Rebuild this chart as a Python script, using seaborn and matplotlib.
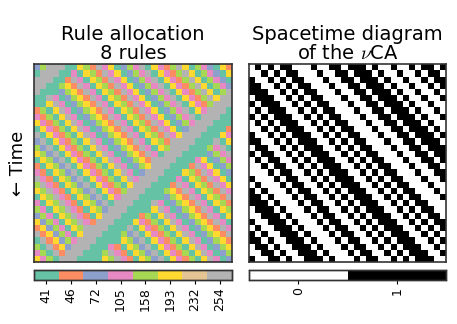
import numpy as np
import matplotlib
matplotlib.use("Agg")
import matplotlib.pyplot as plt
from matplotlib.colors import ListedColormap
import seaborn as sns

# rules used by the non-uniform CA (colorbar tick labels)
rules = [41, 46, 72, 105, 158, 193, 232, 254]

# rule allocation, one string per time step, digit = index into rules
rule_rows = [
    "24777005417350243705314750432051",
    "07770030541735024370531475043205",
    "77700173054173502437053147504320",
    "77004517305417350243705314750432",
    "70002451730541735024370531475047",
    "00730245173054173502437053147577",
    "00573024517305417350243705314777",
    "14057302451730541735024370537770",
    "31405730245173054173502437077700",
    "53140573024517305417350243777000",
    "05314057302451730541735027770001",
    "70531405730245173054173577700053",
    "27053140573024517305417777000705",
    "42705314057302451730547770004370",
    "54270531405730245173077700002437",
    "05427053140573024517777000350243",
    "10542705314057302457770001735024",
    "31054270531405730277700054173502",
    "73105427053140573777000305417350",
    "47310542705314057770001730541735",
    "54731054270531477700045173054173",
    "05473105427053777000024517305417",
    "30547310542707770007302451730541",
    "43054731054277700005730245173054",
    "24305473105777000140573024517305",
    "52430547317770005314057302451730",
    "15243054777700070531405730245173",
    "71524305777000427053140573024517",
    "07152437770000542705314057302451",
    "40715277700031054270531405730245",
    "34071777000473105427053140573024",
    "53407770000547310542705314057302",
]

# spacetime diagram, '#' = state 1 (black)
state_rows = [
    ".#.#.##...#..##.###.#..#..#.##.#",
    "..#.#.##...#..##.###.#..#..#.##.",
    "#..#.#.##...#..##.###.#..#..#.##",
    "##..#.#.##...#..##.###.#..#..#.#",
    "###..#.#.##...#..##.###.#..#..#.",
    ".###..#.#.##...#..##.###.#..#..#",
    "#.###..#.#.##...#..##.###.#..#..",
    ".#.###..#.#.##...#..##.###.#..#.",
    "#.#.###..#.#.##...#..##.###.#..#",
    ".#.#.###..#.#.##...#..##.###.#..",
    "..#.#.###..#.#.##...#..##.###.#.",
    "#..#.#.###..#.#.##...#..##.###.#",
    "##..#.#.###..#.#.##...#..##.###.",
    ".##..#.#.###..#.#.##...#..##.###",
    "#.##..#.#.###..#.#.##...#..##.##",
    ".#.##..#.#.###..#.#.##...#..##.#",
    "..#.##..#.#.###..#.#.##...#..##.",
    "...#.##..#.#.###..#.#.##...#..##",
    "#...#.##..#.#.###..#.#.##...#..#",
    ".#...#.##..#.#.###..#.#.##...#..",
    "#.#...#.##..#.#.###..#.#.##...#.",
    "##.#...#.##..#.#.###..#.#.##...#",
    "###.#...#.##..#.#.###..#.#.##...",
    ".###.#...#.##..#.#.###..#.#.##..",
    "..###.#...#.##..#.#.###..#.#.##.",
    "#..###.#...#.##..#.#.###..#.#.##",
    ".#..###.#...#.##..#.#.###..#.#.#",
    "#.#..###.#...#.##..#.#.###..#.#.",
    "##.#..###.#...#.##..#.#.###..#.#",
    ".##.#..###.#...#.##..#.#.###..#.",
    "..##.#..###.#...#.##..#.#.###..#",
    "#..##.#..###.#...#.##..#.#.###..",
]

alloc = np.array([[int(ch) for ch in row] for row in rule_rows])
states = np.array([[1 if ch == "#" else 0 for ch in row] for row in state_rows])

sns.set_style("white")
plt.rcParams["mathtext.fontset"] = "cm"
plt.rcParams["font.family"] = ["DejaVu Sans"]
plt.rcParams["text.color"] = "black"
plt.rcParams["axes.labelcolor"] = "black"
plt.rcParams["xtick.color"] = "black"

fig = plt.figure(figsize=(4.57, 3.24), dpi=100)
ax1 = fig.add_axes([0.0744, 0.191, 0.433, 0.611])
ax2 = fig.add_axes([0.545, 0.191, 0.431, 0.611])
cax1 = fig.add_axes([0.0744, 0.136, 0.433, 0.030])
cax2 = fig.add_axes([0.545, 0.136, 0.431, 0.030])

rule_cmap = ListedColormap(sns.color_palette("Set2", len(rules)))
sns.heatmap(alloc, ax=ax1, cmap=rule_cmap, vmin=-0.5, vmax=len(rules) - 0.5,
            cbar_ax=cax1, cbar_kws={"orientation": "horizontal"},
            xticklabels=False, yticklabels=False)
bw_cmap = ListedColormap(["white", "black"])
sns.heatmap(states, ax=ax2, cmap=bw_cmap, vmin=-0.5, vmax=1.5,
            cbar_ax=cax2, cbar_kws={"orientation": "horizontal"},
            xticklabels=False, yticklabels=False)

for ax in (ax1, ax2):
    for sp in ax.spines.values():
        sp.set_visible(True)
        sp.set_color("#333333")
        sp.set_linewidth(1.2)

cax1.set_xticks(range(len(rules)))
cax1.set_xticklabels([str(r) for r in rules], rotation=90, fontsize=9)
cax2.set_xticks([0, 1])
cax2.set_xticklabels(["0", "1"], rotation=90, fontsize=9)
for cax in (cax1, cax2):
    cax.tick_params(axis="x", length=3, width=0.8, pad=2, colors="black")
    for sp in cax.spines.values():
        sp.set_visible(True)
        sp.set_color("#333333")
        sp.set_linewidth(1.0)

ax1.set_title("Rule allocation\n8 rules", fontsize=14, linespacing=1.0, pad=4)
ax2.set_title("Spacetime diagram\nof the $\\nu$CA", fontsize=14, linespacing=1.0, pad=4)
ax1.set_ylabel("\u2190 Time", fontsize=13, labelpad=5)

fig.savefig("out.png", dpi=100)
